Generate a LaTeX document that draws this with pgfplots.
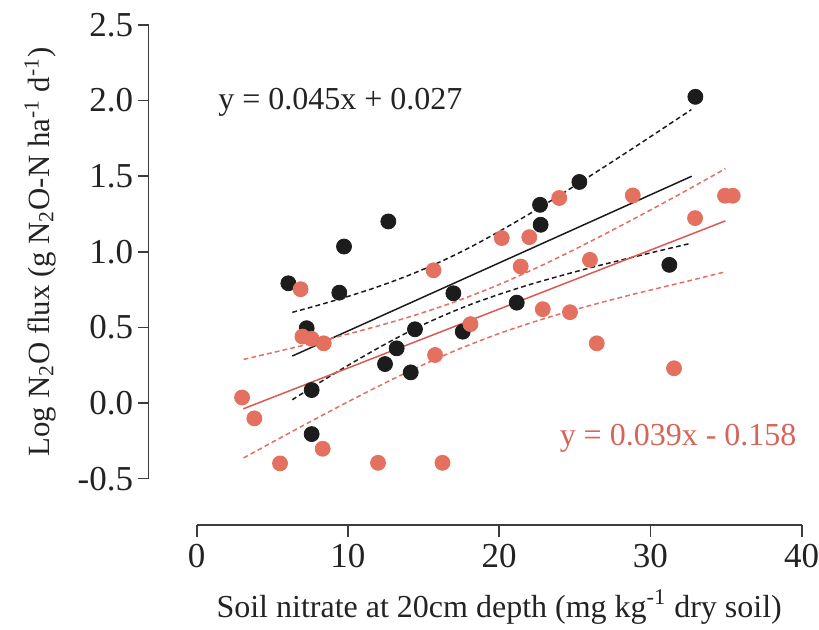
\documentclass[border=0pt]{standalone}
\usepackage{fontspec}
\setmainfont{Liberation Serif}
\usepackage{pgfplots}
\pgfplotsset{compat=1.18}
\definecolor{dk}{RGB}{28,28,28}
\definecolor{rd}{RGB}{228,112,96}
\definecolor{rdline}{RGB}{220,88,80}
\definecolor{rddash}{RGB}{226,110,100}
\definecolor{rdtext}{RGB}{214,100,88}
\definecolor{axc}{RGB}{60,60,60}
\definecolor{txt}{RGB}{35,35,35}
\newcommand{\fs}{\fontsize{16}{19}\selectfont}
\newcommand{\fy}{\fontsize{15.4}{18}\selectfont}
\newcommand{\ft}{\fontsize{17.5}{20}\selectfont}
\begin{document}
\begin{tikzpicture}
\useasboundingbox (0,0) rectangle (409.5pt,315pt);
% y axis only
\begin{axis}[
  scale only axis, at={(74.25pt,75.65pt)}, anchor=south west,
  width=10pt, height=226.85pt,
  xmin=0, xmax=1, ymin=-0.5, ymax=2.5,
  axis y line*=left, axis x line=none,
  y axis line style={draw=axc, line width=0.8pt},
  ytick={-0.5,0,0.5,1,1.5,2,2.5},
  yticklabels={-0.5,0.0,0.5,1.0,1.5,2.0,2.5},
  tick align=outside, major tick length=5.5pt,
  tick style={draw=axc, line width=0.8pt},
  yticklabel style={font=\ft, text=txt, inner xsep=2pt},
  ylabel={Log N\textsubscript{2}O flux (g N\textsubscript{2}O-N ha\textsuperscript{-1} d\textsuperscript{-1})},
  ylabel style={font=\fy, text=txt, at={(axis description cs:-5.425,0.5)}, anchor=center},
]
\addplot[draw=none] coordinates {(0,0)};
\end{axis}
% x axis only
\begin{axis}[
  scale only axis, at={(98.35pt,52.5pt)}, anchor=south west,
  width=302.5pt, height=10pt,
  xmin=0, xmax=40, ymin=0, ymax=1,
  axis x line*=bottom, axis y line=none,
  x axis line style={draw=axc, line width=0.8pt},
  xtick={0,10,20,30,40},
  xticklabels={0,10,20,30,40},
  tick align=outside, major tick length=6pt,
  tick style={draw=axc, line width=0.8pt},
  xticklabel style={font=\ft, text=txt},
  xlabel={Soil nitrate at 20cm depth (mg kg\textsuperscript{-1} dry soil)},
  xlabel style={font=\fs, text=txt, at={(axis description cs:0.5,-4.1)}, anchor=center},
]
\addplot[draw=none] coordinates {(0,0.5)};
\end{axis}
% data
\begin{axis}[
  scale only axis, at={(98.35pt,75.65pt)}, anchor=south west,
  width=302.5pt, height=226.85pt,
  xmin=0, xmax=40, ymin=-0.5, ymax=2.5,
  hide axis, clip=false,
]
% black regression and confidence band
\addplot[dk, line width=0.75pt] coordinates {(6.32,0.311) (32.73,1.500)};
\addplot[dk, line width=0.75pt, dash pattern=on 2.4pt off 1.6pt, smooth] coordinates {
 (6.32,0.600) (8,0.646) (10,0.705) (12,0.770) (14,0.844) (16,0.929) (18,1.026)
 (20,1.135) (22,1.251) (24,1.374) (26,1.501) (28,1.630) (30,1.761) (32.7,1.940)};
\addplot[dk, line width=0.75pt, dash pattern=on 2.4pt off 1.6pt, smooth] coordinates {
 (6.32,0.022) (8,0.128) (10,0.249) (12,0.364) (14,0.471) (16,0.565) (18,0.648)
 (20,0.719) (22,0.783) (24,0.840) (26,0.894) (28,0.944) (30,0.993) (32.7,1.057)};
% red regression and confidence band
\addplot[rdline, line width=0.75pt] coordinates {(3.08,-0.038) (34.96,1.205)};
\addplot[rddash, line width=0.75pt, dash pattern=on 2.4pt off 1.6pt, smooth] coordinates {
 (3.1,0.289) (5,0.333) (8,0.405) (11,0.483) (14,0.568) (17,0.667) (20,0.784)
 (23,0.919) (26,1.067) (29,1.223) (32,1.385) (34.96,1.550)};
\addplot[rddash, line width=0.75pt, dash pattern=on 2.4pt off 1.6pt, smooth] coordinates {
 (3.1,-0.363) (5,-0.259) (8,-0.097) (11,0.060) (14,0.208) (17,0.343) (20,0.460)
 (23,0.559) (26,0.645) (29,0.723) (32,0.795) (34.96,0.868)};
% black points
\addplot[only marks, mark=*, mark size=3.75pt, mark options={draw=dk, fill=dk}] coordinates {
 (6.06,0.792) (7.27,0.495) (7.60,0.086) (7.60,-0.205) (9.43,0.730) (9.74,1.035)
 (12.67,1.201) (12.45,0.258) (13.22,0.362) (14.15,0.203) (14.43,0.488) (16.97,0.726)
 (17.59,0.472) (21.16,0.664) (22.70,1.311) (22.74,1.179) (25.30,1.462) (31.25,0.914)
 (32.97,2.025)};
% red points
\addplot[only marks, mark=*, mark size=3.75pt, mark options={draw=rd, fill=rd}] coordinates {
 (3.00,0.037) (3.81,-0.101) (5.51,-0.399) (6.87,0.753) (6.99,0.440) (7.60,0.425)
 (8.40,0.395) (8.33,-0.302) (11.99,-0.395) (15.66,0.878) (15.76,0.318) (16.25,-0.395)
 (18.10,0.522) (20.17,1.091) (21.99,1.097) (21.42,0.903) (23.97,1.356) (22.88,0.621)
 (24.68,0.601) (26.00,0.947) (26.45,0.395) (28.83,1.373) (31.56,0.230) (32.95,1.223)
 (34.93,1.371) (35.44,1.371)};
\node[font=\fs, text=txt, anchor=west, inner sep=0pt] at (axis cs:1.41,1.99) {y = 0.045x + 0.027};
\node[font=\fs, text=rdtext, anchor=east, inner sep=0pt] at (axis cs:39.68,-0.231) {y = 0.039x - 0.158};
\end{axis}
\end{tikzpicture}
\end{document}
